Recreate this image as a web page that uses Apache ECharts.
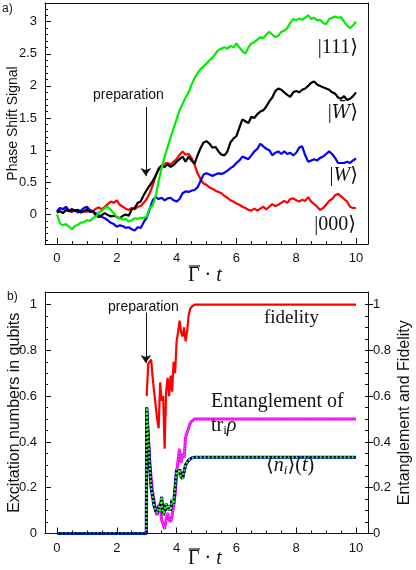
<!DOCTYPE html>
<html>
<head>
<meta charset="utf-8">
<script src="https://cdn.jsdelivr.net/npm/echarts@6/dist/echarts.min.js"></script>
<style>
  html, body { margin: 0; padding: 0; background: #fff; }
  #chart { width: 416px; height: 570px; }
</style>
</head>
<body>
<div id="chart"></div>
<script>
// panel a) - phase shift signal, sampled every 0.1 in t
const tA = Array.from({ length: 101 }, (_, i) => +(i / 10).toFixed(1));

const sig111 = [
  0.00, -0.14, -0.17, -0.15, -0.19, -0.23, -0.18, -0.16, -0.13, -0.12,
  -0.09, -0.10, -0.06, -0.03, 0.03, 0.06, 0.10, 0.12, 0.07, 0.02,
  -0.04, -0.06, -0.08, -0.07, -0.11, -0.09, -0.06, -0.07, -0.05, -0.06,
  -0.03, 0.10, 0.14, 0.28, 0.52, 0.72, 0.90, 1.05, 1.20, 1.34,
  1.48, 1.62, 1.72, 1.82, 1.90, 2.02, 2.12, 2.20, 2.26, 2.30,
  2.35, 2.40, 2.44, 2.50, 2.56, 2.58, 2.60, 2.58, 2.62, 2.60,
  2.66, 2.60, 2.54, 2.50, 2.60, 2.66, 2.68, 2.72, 2.76, 2.74,
  2.80, 2.84, 2.80, 2.76, 2.78, 2.84, 2.86, 2.90, 2.98, 3.04,
  3.02, 3.05, 3.03, 3.06, 3.10, 3.04, 3.06, 3.02, 3.03, 2.98,
  2.96, 3.04, 3.06, 3.08, 3.06, 3.07, 3.00, 2.94, 2.90, 2.94, 3.00
];
const sigWbar = [
  0.03, 0.05, 0.02, 0.07, 0.05, 0.08, 0.06, 0.07, 0.03, 0.05,
  0.08, 0.04, 0.05, -0.02, -0.04, -0.01, 0.02, -0.01, -0.03, -0.02,
  -0.04, -0.06, -0.02, 0.00, -0.02, 0.08, 0.10, 0.18, 0.20, 0.30,
  0.38, 0.45, 0.52, 0.60, 0.70, 0.76, 0.74, 0.78, 0.74, 0.77,
  0.82, 0.86, 0.90, 0.82, 0.90, 0.84, 0.79, 0.92, 1.03, 1.12,
  1.14, 1.10, 1.04, 1.05, 0.98, 0.93, 0.92, 0.98, 1.12, 1.18,
  1.22, 1.35, 1.48, 1.45, 1.42, 1.52, 1.50, 1.56, 1.60, 1.62,
  1.68, 1.76, 1.82, 1.92, 1.96, 1.94, 1.90, 1.86, 1.83, 1.90,
  1.92, 1.90, 1.94, 1.96, 2.00, 2.05, 2.07, 2.02, 2.00, 1.98,
  1.96, 1.94, 1.90, 1.88, 1.82, 1.80, 1.84, 1.78, 1.80, 1.84, 1.90
];
const sigW = [
  0.05, 0.10, 0.08, 0.12, 0.06, 0.04, 0.07, 0.03, 0.06, 0.10,
  0.12, 0.07, 0.04, 0.02, -0.01, -0.04, -0.06, -0.09, -0.13, -0.15,
  -0.19, -0.17, -0.18, -0.21, -0.20, -0.23, -0.25, -0.20, -0.21, -0.12,
  -0.05, 0.08, 0.22, 0.27, 0.24, 0.26, 0.22, 0.25, 0.26, 0.22,
  0.20, 0.24, 0.33, 0.36, 0.35, 0.37, 0.38, 0.42, 0.52, 0.62,
  0.64, 0.62, 0.60, 0.62, 0.64, 0.63, 0.65, 0.68, 0.72, 0.75,
  0.80, 0.84, 0.90, 0.88, 0.86, 0.92, 0.98, 1.02, 1.10, 1.06,
  1.02, 1.00, 0.92, 0.96, 0.98, 0.94, 0.98, 0.94, 0.96, 0.92,
  0.96, 1.04, 1.06, 0.92, 0.82, 0.84, 0.86, 0.84, 0.88, 0.90,
  0.94, 0.98, 0.94, 0.88, 0.80, 0.80, 0.80, 0.82, 0.80, 0.84, 0.87
];
const sig000 = [
  0.03, 0.10, 0.08, 0.11, 0.06, 0.08, 0.05, 0.07, 0.03, 0.05,
  0.04, 0.07, 0.05, 0.09, 0.11, 0.08, 0.12, 0.16, 0.20, 0.18,
  0.22, 0.15, 0.12, 0.09, 0.07, 0.10, 0.08, 0.12, 0.13, 0.18,
  0.24, 0.33, 0.45, 0.60, 0.72, 0.76, 0.79, 0.80, 0.78, 0.82,
  0.86, 0.93, 0.98, 0.93, 0.94, 0.88, 0.78, 0.64, 0.55, 0.48,
  0.46, 0.42, 0.40, 0.37, 0.35, 0.33, 0.29, 0.26, 0.22, 0.20,
  0.17, 0.15, 0.12, 0.10, 0.07, 0.06, 0.09, 0.06, 0.09, 0.12,
  0.08, 0.12, 0.16, 0.13, 0.15, 0.18, 0.21, 0.18, 0.24, 0.25,
  0.22, 0.20, 0.23, 0.21, 0.27, 0.20, 0.16, 0.12, 0.07, 0.10,
  0.15, 0.21, 0.24, 0.30, 0.32, 0.28, 0.24, 0.20, 0.12, 0.10, 0.10
];

// panel b) - non-uniform sampling, dense around the preparation step
const tB = [0, 2.99, 3.0, 3.05, 3.1, 3.15, 3.2, 3.25, 3.3, 3.35, 3.4, 3.45, 3.5, 3.55,
  3.6, 3.65, 3.7, 3.75, 3.8, 3.85, 3.9, 3.95, 4.0, 4.05, 4.1, 4.15, 4.2, 4.25,
  4.3, 4.35, 4.4, 4.45, 4.5, 4.55, 4.6, 4.7, 4.8, 5.0, 10];
const fidelity = [null, null, 0.60, 0.74, 0.75, 0.76, 0.68, 0.62, 0.56, 0.50, 0.46, 0.66, 0.58, 0.60,
  0.37, 0.62, 0.68, 0.60, 0.69, 0.62, 0.75, 0.70, 0.84, 0.88, 0.93, 0.88, 0.86, 0.90,
  0.84, 0.88, 0.95, 0.98, 0.99, 0.995, 1.0, 1.0, 1.0, 1.0, 1.0];
const entangle = [0, 0, 0.55, 0.42, 0.32, 0.24, 0.18, 0.14, 0.10, 0.08, 0.12, 0.13, 0.06, 0.04,
  0.02, 0.06, 0.09, 0.06, 0.05, 0.08, 0.12, 0.17, 0.26, 0.32, 0.37, 0.31, 0.35, 0.33,
  0.42, 0.44, 0.46, 0.48, 0.49, 0.495, 0.5, 0.5, 0.5, 0.5, 0.5];
const excite = [0, 0, 0.55, 0.43, 0.30, 0.20, 0.16, 0.12, 0.10, 0.09, 0.12, 0.10, 0.16, 0.08,
  0.10, 0.13, 0.10, 0.12, 0.10, 0.15, 0.13, 0.20, 0.28, 0.26, 0.28, 0.25, 0.24, 0.27,
  0.30, 0.31, 0.32, 0.325, 0.33, 0.333, 0.333, 0.333, 0.333, 0.333, 0.333];

const xTicks = [0, 2, 4, 6, 8, 10];
const yTicksA = [0, 0.5, 1, 1.5, 2, 2.5, 3];
const yTicksB = [0, 0.2, 0.4, 0.6, 0.8, 1];

const steps = (a, b, d) => {
  const out = [];
  for (let v = a; v <= b + 1e-9; v += d) out.push(+v.toFixed(3));
  return out;
};
const xMinor = steps(0, 10, 0.5);
const yMinorA = steps(-0.4, 3.2, 0.1);
const yMinorB = steps(0, 1, 0.05);

const SANS = '"Liberation Sans", Arial, sans-serif';
const SERIF = '"Liberation Serif", "DejaVu Serif", serif';
const MATH = '"DejaVu Serif", serif';
const INK = '#111';

const pairs = (ts, vs) => ts.map((t, i) => [t, vs[i]]);

// one axis per tick set, so every tick sits exactly on its value
function axis(grid, pos, min, max, o) {
  o = o || {};
  return {
    type: 'value', gridIndex: grid, position: pos, min: min, max: max,
    splitLine: { show: false },
    axisLine: { show: !!o.line, onZero: false, lineStyle: { color: INK, width: 1 } },
    axisTick: o.ticks ? {
      show: true, inside: o.inside !== false, length: o.len || 5,
      customValues: o.ticks, lineStyle: { color: INK, width: 1 }
    } : { show: false },
    axisLabel: o.labels ? {
      show: true, customValues: o.labels, fontFamily: SANS, fontSize: 13, color: INK,
      margin: o.margin || 8, inside: false
    } : { show: false },
    name: o.name || '', nameLocation: 'middle', nameGap: o.nameGap || 20,
    nameMoveOverlap: false,
    nameTextStyle: o.nameStyle || {},
    z: 5
  };
}

const xAxis = [
  axis(0, 'bottom', -0.4, 10.4, { line: true, ticks: xTicks, labels: xTicks, len: 6 }),
  axis(0, 'bottom', -0.4, 10.4, { ticks: xMinor, len: 3 }),
  axis(0, 'top', -0.4, 10.4, { line: true }),
  axis(1, 'bottom', -0.4, 10.4, { line: true, ticks: xTicks, labels: xTicks, len: 6 }),
  axis(1, 'bottom', -0.4, 10.4, { ticks: xMinor, len: 3 }),
  axis(1, 'top', -0.4, 10.4, { line: true })
];

const yAxis = [
  axis(0, 'left', -0.46, 3.29, {
    line: true, ticks: yTicksA, labels: yTicksA, len: 6, name: 'Phase Shift Signal', nameGap: 25,
    nameStyle: { fontFamily: SANS, fontSize: 14, color: INK }
  }),
  axis(0, 'left', -0.46, 3.29, { ticks: yMinorA, len: 3 }),
  axis(0, 'right', -0.46, 3.29, { line: true }),
  axis(1, 'left', 0, 1.055, {
    line: true, ticks: yTicksB, labels: yTicksB, len: 6, name: 'Excitation numbers in qubits', nameGap: 22,
    nameStyle: { fontFamily: SANS, fontSize: 16, color: INK }
  }),
  axis(1, 'left', 0, 1.055, { ticks: yMinorB, len: 3 }),
  axis(1, 'right', 0, 1.055, {
    line: true, ticks: yTicksB, labels: yTicksB, len: 5, inside: false, margin: 5,
    name: 'Entanglement and Fidelity', nameGap: 29,
    nameStyle: { fontFamily: SANS, fontSize: 16, color: INK }
  }),
  axis(1, 'right', 0, 1.055, { ticks: yMinorB, len: 3 })
];

function line(name, data, xi, yi, color, width, extra) {
  return Object.assign({
    name: name, type: 'line', xAxisIndex: xi, yAxisIndex: yi, data: data,
    showSymbol: false, symbol: 'none', silent: true, connectNulls: false,
    lineStyle: { color: color, width: width }
  }, extra || {});
}

function arrow(from, to) {
  return {
    silent: true, symbol: ['none', 'arrow'], symbolSize: 8,
    label: { show: false },
    lineStyle: { color: INK, width: 1, type: 'solid' },
    itemStyle: { color: INK },
    emphasis: { disabled: true },
    animation: false,
    data: [[{ coord: from }, { coord: to }]]
  };
}

const series = [
  line('|000>', pairs(tA, sig000), 0, 0, '#ff0000', 2.2),
  line('|W>', pairs(tA, sigW), 0, 0, '#0000ff', 2.2),
  line('|Wbar>', pairs(tA, sigWbar), 0, 0, '#000000', 2.2, { markLine: arrow([2.97, 1.67], [2.97, 0.6]) }),
  line('|111>', pairs(tA, sig111), 0, 0, '#00ee00', 2.2),

  line('entanglement', pairs(tB, entangle), 3, 5, '#ff00ff', 3),
  line('entanglement-dots', pairs(tB, entangle), 3, 5, '#b0b0b0', 1, { lineStyle: { color: '#b0b0b0', width: 1, type: [1, 2] } }),
  line('n1', pairs(tB, excite), 3, 3, '#0000ff', 3.2),
  line('n2', pairs(tB, excite), 3, 3, '#000000', 2.2),
  line('n3', pairs(tB, excite), 3, 3, '#33ff33', 2, {
    lineStyle: { color: '#33ff33', width: 2, type: [2, 2] },
    markLine: arrow([2.97, 0.965], [2.97, 0.745])
  }),
  line('fidelity', pairs(tB, fidelity), 3, 5, '#ff0000', 2.2)
];

const txt = (x, y, text, o) => ({
  type: 'text', x: x, y: y, silent: true, z: 100,
  style: Object.assign({
    text: text, fill: INK, fontFamily: SERIF, fontSize: 20,
    textAlign: 'left', textVerticalAlign: 'middle', verticalAlign: 'middle'
  }, o || {})
});
const ketRich = {
  n: { fontFamily: SERIF, fontSize: 20, color: INK, lineHeight: 22 },
  i: { fontFamily: SERIF, fontSize: 20, color: INK, fontStyle: 'italic', lineHeight: 22 },
  wb: { fontFamily: MATH, fontSize: 18, color: INK, fontStyle: 'italic', lineHeight: 22 },
  sub: { fontFamily: SERIF, fontSize: 13, color: INK, lineHeight: 11, verticalAlign: 'bottom' },
  si: { fontFamily: SERIF, fontSize: 13, color: INK, fontStyle: 'italic', lineHeight: 11, verticalAlign: 'bottom' }
};

// x-axis title "Γ̄ · t", drawn by hand so the bar over Γ sits right
function gammaTitle(cy) {
  return [
    txt(188, cy, '{n|Γ}{n| · }{i|t}', { rich: ketRich }),
    { type: 'line', silent: true, z: 100,
      shape: { x1: 189, y1: cy - 10, x2: 200, y2: cy - 10 },
      style: { stroke: INK, lineWidth: 1.2 } }
  ];
}

const graphic = [
  txt(2, 9, 'a)', { fontFamily: SANS, fontSize: 12 }),
  txt(7, 297, 'b)', { fontFamily: SANS, fontSize: 12 }),
  txt(93, 95, 'preparation', { fontFamily: SANS, fontSize: 14 }),
  txt(108, 307, 'preparation', { fontFamily: SANS, fontSize: 14 }),
  txt(358, 48, '{n||111⟩}', { textAlign: 'right', rich: ketRich }),
  txt(358, 113, '{n||}{wb|W̄}{n|⟩}', { textAlign: 'right', rich: ketRich }),
  txt(358, 176, '{n||}{i|W}{n|⟩}', { textAlign: 'right', rich: ketRich }),
  txt(356, 225, '{n||000⟩}', { textAlign: 'right', rich: ketRich }),
  txt(264, 318, 'fidelity', { fontSize: 19 }),
  txt(211, 402, 'Entanglement of', { fontSize: 20 }),
  txt(211, 426, '{n|tr}{sub|i}{i|ρ}', { rich: ketRich }),
  txt(266, 466, '{n|⟨}{i|n}{si|i}{n|⟩(}{i|t}{n|)}', { rich: ketRich })
].concat(gammaTitle(276), gammaTitle(559));

const chart = echarts.init(document.getElementById('chart'), null, { renderer: 'canvas' });
chart.setOption({
  animation: false,
  backgroundColor: '#ffffff',
  grid: [
    { left: 45, top: 3, width: 323, height: 241, containLabel: false, outerBoundsMode: 'none' },
    { left: 45, top: 292, width: 323, height: 241.5, containLabel: false, outerBoundsMode: 'none' }
  ],
  xAxis: xAxis,
  yAxis: yAxis,
  series: series,
  graphic: graphic
});
</script>
</body>
</html>
